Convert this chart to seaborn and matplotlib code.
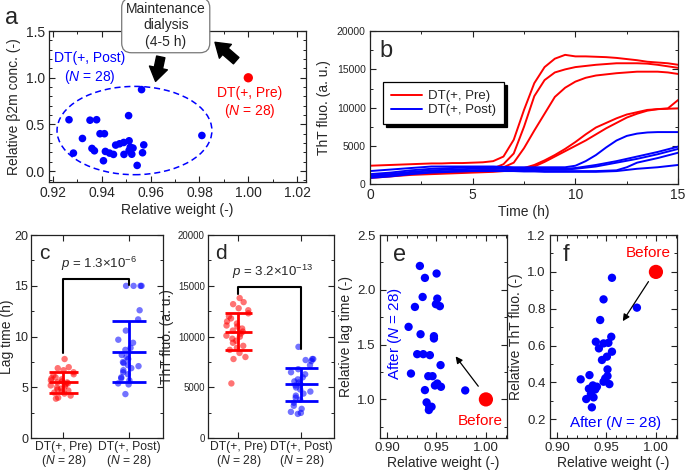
import numpy as np
import pandas as pd
import matplotlib
matplotlib.use('Agg')
import matplotlib.pyplot as plt
import seaborn as sns
from matplotlib.lines import Line2D
from matplotlib.patches import Ellipse
from matplotlib.ticker import MultipleLocator, FormatStrFormatter

sns.set_style('ticks')
plt.rcParams['font.family'] = ['Liberation Sans', 'DejaVu Sans']
plt.rcParams['mathtext.fontset'] = 'custom'
plt.rcParams['mathtext.rm'] = 'Liberation Sans'
plt.rcParams['mathtext.it'] = 'Liberation Sans:italic'
plt.rcParams['axes.linewidth'] = 0.9
plt.rcParams['axes.edgecolor'] = '#222222'

RED = '#ff0000'
BLUE = '#0000ff'
LAB = 10

# ---- a: relative weight vs relative b2m (post dialysis)
a_weight = [0.9563, 0.9266, 0.9352, 0.9379, 0.9510, 0.9393, 0.9411, 0.9321, 0.9284, 0.9360,
            0.9370, 0.9407, 0.9415, 0.9432, 0.9448, 0.9457, 0.9473, 0.9490, 0.9512, 0.9491,
            0.9517, 0.9528, 0.9512, 0.9523, 0.9545, 0.9567, 0.9572, 0.9810]
a_b2m = [0.873, 0.550, 0.545, 0.550, 0.594, 0.400, 0.400, 0.349, 0.192, 0.242,
         0.217, 0.110, 0.210, 0.192, 0.178, 0.278, 0.292, 0.306, 0.324, 0.178,
         0.256, 0.246, 0.220, 0.180, 0.060, 0.196, 0.280, 0.381]
pre_point = (1.0, 1.0)

# ---- b: ThT kinetics (time in h)
time_h = np.arange(0, 15.01, 0.5)
pre_curves = [
    [2400, 2450, 2500, 2550, 2600, 2650, 2700, 2700, 2750, 2750, 2800, 2850, 3000, 3600, 5800, 9700,
     13200, 15300, 16400, 16900, 16700, 16700, 16650, 16600, 16500, 16350, 16200, 16000, 15900, 15800, 15600],
    [1100, 1200, 1300, 1400, 1450, 1500, 1550, 1600, 1650, 1700, 1750, 1850, 2050, 2600, 4000, 7500,
     11500, 13600, 14600, 15000, 15300, 15450, 15600, 15700, 15800, 15800, 15800, 15750, 15600, 15400, 15200],
    [1000, 1100, 1200, 1300, 1350, 1400, 1450, 1500, 1550, 1600, 1650, 1750, 1900, 2200, 2800, 4700,
     7000, 9200, 11400, 12600, 13400, 13900, 14200, 14350, 14500, 14600, 14700, 14700, 14700, 14600, 14400],
    [900, 1000, 1100, 1200, 1300, 1350, 1400, 1450, 1500, 1550, 1600, 1650, 1700, 1800, 1900, 2100,
     2500, 3100, 3800, 4600, 5500, 6500, 7400, 8000, 8600, 9100, 9400, 9700, 9800, 9900, 11000],
    [800, 900, 1000, 1100, 1200, 1250, 1300, 1350, 1400, 1450, 1500, 1550, 1600, 1700, 1800, 1950,
     2300, 2900, 3600, 4300, 5000, 5700, 6500, 7300, 8000, 8700, 9200, 9600, 9800, 9850, 9900],
]
post_curves = [
    [1700, 1800, 1900, 2000, 2100, 2200, 2300, 2300, 2300, 2300, 2300, 2300, 2300, 2250, 2200, 2200,
     2200, 2200, 2200, 2200, 2400, 3000, 3800, 4800, 5700, 6300, 6600, 6750, 6800, 6800, 6800],
    [1300, 1400, 1500, 1650, 1800, 1900, 2000, 2050, 2100, 2150, 2200, 2200, 2200, 2150, 2100, 2100,
     2050, 2000, 2000, 2000, 2100, 2300, 2500, 2750, 3000, 3300, 3600, 3900, 4200, 4550, 4900],
    [1100, 1200, 1300, 1450, 1600, 1700, 1800, 1850, 1900, 1950, 2000, 2000, 2000, 2000, 2000, 1950,
     1950, 1900, 1900, 1900, 2000, 2150, 2300, 2550, 2800, 3050, 3300, 3600, 3900, 4250, 4600],
    [1000, 1100, 1200, 1300, 1400, 1500, 1600, 1650, 1700, 1750, 1800, 1800, 1800, 1800, 1800, 1750,
     1750, 1700, 1700, 1700, 1700, 1700, 1700, 1750, 1800, 2200, 2800, 3100, 3400, 3750, 4100],
    [800, 900, 1000, 1150, 1300, 1400, 1500, 1550, 1600, 1650, 1700, 1700, 1700, 1700, 1700, 1650,
     1650, 1600, 1600, 1600, 1600, 1600, 1600, 1650, 1700, 1850, 2000, 2100, 2200, 2350, 2500],
]

# ---- c: lag time (h)
lag_pre = [7.8, 7.0, 6.9, 6.7, 6.5, 6.3, 6.2, 6.0, 5.9, 5.8, 5.7, 5.6, 5.5, 5.5,
           5.4, 5.3, 5.2, 5.1, 5.0, 4.9, 4.8, 4.7, 4.6, 4.5, 4.4, 4.2, 4.0, 3.9]
lag_post = [15.0, 15.0, 15.0, 15.0, 12.6, 11.7, 10.6, 9.7, 9.4, 8.9, 8.7, 8.2, 8.0, 7.8,
            7.5, 7.4, 7.2, 7.1, 6.9, 6.7, 6.5, 6.3, 6.0, 5.9, 5.7, 5.4, 5.3, 4.35]
lag_mean = [5.5, 8.5]
lag_sd = [1.0, 3.0]

# ---- d: ThT fluorescence at end (a.u.)
tht_pre = [13800, 13400, 13200, 12800, 12600, 12300, 12000, 11800, 11500, 11300, 11100, 11000, 10800, 10600,
           10500, 10300, 10100, 10000, 9800, 9600, 9400, 9100, 8900, 8700, 8400, 8000, 7800, 5400]
tht_post = [9000, 7800, 7800, 7700, 7600, 7200, 6800, 6500, 6300, 6000, 5800, 5600, 5500, 5300,
            5200, 5000, 4800, 4600, 4400, 4200, 4000, 3800, 3500, 3200, 2900, 2600, 2500, 2400]
tht_mean = [10500, 5300]
tht_sd = [1850, 1600]

group_names = ['Pre', 'Post']
group_labels = ['DT(+, Pre)\n($N$ = 28)', 'DT(+, Post)\n($N$ = 28)']

# ---- e: relative weight vs relative lag time
e_weight = [0.9333, 0.9502, 0.9384, 0.9361, 0.9509, 0.9283, 0.9495, 0.9535, 0.9219, 0.9340,
            0.9475, 0.9475, 0.9306, 0.9367, 0.9434, 0.9542, 0.9243, 0.9418, 0.9461, 0.9485,
            0.9546, 0.9384, 0.9791, 0.9401, 0.9428, 0.9451, 0.9424, 0.9509]
e_lag = [2.218, 2.149, 2.109, 1.935, 1.920, 1.844, 1.869, 1.851, 1.662, 1.595,
         1.577, 1.556, 1.413, 1.413, 1.404, 1.313, 1.236, 1.212, 1.212, 1.127,
         1.115, 1.085, 1.082, 0.973, 0.933, 0.933, 0.903, 1.145]

# ---- f: relative weight vs relative ThT fluorescence
f_weight = [0.9556, 0.9471, 0.9808, 0.9437, 0.9549, 0.9393, 0.9471, 0.9520, 0.9424, 0.9556,
            0.9505, 0.9455, 0.9511, 0.9511, 0.9240, 0.9329, 0.9471, 0.9530, 0.9363, 0.9387,
            0.9353, 0.9343, 0.9296, 0.9370, 0.9353, 0.9404, 0.9488, 0.9323]
f_tht = [0.968, 0.851, 0.806, 0.739, 0.648, 0.621, 0.612, 0.615, 0.585, 0.567,
         0.540, 0.522, 0.471, 0.435, 0.417, 0.440, 0.404, 0.391, 0.384, 0.362,
         0.355, 0.337, 0.310, 0.319, 0.265, 0.377, 0.422, 0.366]


def style_ticks(ax, labelsize=10):
    ax.tick_params(which='both', direction='in', top=True, right=True, labelsize=labelsize,
                   color='#222222', pad=3)
    ax.tick_params(which='major', length=4, width=0.8)
    ax.tick_params(which='minor', length=2.5, width=0.7)


fig = plt.figure(figsize=(6.85, 4.72), dpi=100)

# ================= a
ax = fig.add_axes([0.0715, 0.614, 0.3755, 0.320])
sns.scatterplot(x=a_weight, y=a_b2m, color=BLUE, s=30, edgecolor='none', ax=ax, zorder=3)
sns.scatterplot(x=[pre_point[0]], y=[pre_point[1]], color=RED, s=45, edgecolor='none', ax=ax, zorder=3)
ax.add_patch(Ellipse((0.9534, 0.434), 0.0634, 0.947, fill=False, ls=(0, (4, 2.5)), ec=BLUE, lw=1.1))
ax.set_xlim(0.9184, 1.0237)
ax.set_ylim(-0.12, 1.5)
ax.xaxis.set_major_locator(MultipleLocator(0.02))
ax.xaxis.set_minor_locator(MultipleLocator(0.01))
ax.yaxis.set_major_locator(MultipleLocator(0.5))
ax.yaxis.set_minor_locator(MultipleLocator(0.1))
ax.xaxis.set_major_formatter(FormatStrFormatter('%.2f'))
ax.yaxis.set_major_formatter(FormatStrFormatter('%.1f'))
style_ticks(ax)
ax.set_xlabel('Relative weight (-)', fontsize=LAB, labelpad=2)
ax.set_ylabel('Relative β2m conc. (-)', fontsize=LAB, labelpad=3)
ax.text(0.935, 1.10, 'DT(+, Post)\n($N$ = 28)', color=BLUE, ha='center', va='center', fontsize=LAB)
ax.text(1.0007, 0.73, 'DT(+, Pre)\n($N$ = 28)', color=RED, ha='center', va='center', fontsize=LAB)
ax.text(0.9662, 1.562, 'Maintenance\ndialysis\n(4-5 h)', ha='center', va='center', fontsize=10,
        linespacing=1.2, clip_on=False, zorder=5,
        bbox=dict(boxstyle='round,pad=0.3,rounding_size=0.7', fc='white', ec='#777777', lw=0.9))
arrow_style = 'simple,head_width=1.2,head_length=0.9,tail_width=0.55'
ax.annotate('', xy=(0.9855, 1.40), xytext=(0.9959, 1.164), annotation_clip=False,
            arrowprops=dict(arrowstyle=arrow_style, fc='black', ec='black', mutation_scale=11))
ax.annotate('', xy=(0.9618, 0.932), xytext=(0.9644, 1.253), annotation_clip=False,
            arrowprops=dict(arrowstyle=arrow_style, fc='black', ec='black', mutation_scale=11))
fig.text(0.008, 0.985, 'a', fontsize=17, va='top', ha='left')

# ================= b
ax = fig.add_axes([0.540, 0.610, 0.450, 0.324])
for curve in pre_curves:
    sns.lineplot(x=time_h, y=curve, color=RED, lw=1.4, ax=ax)
for curve in post_curves:
    sns.lineplot(x=time_h, y=curve, color=BLUE, lw=1.4, ax=ax)
ax.set_xlim(0, 15)
ax.set_ylim(0, 20000)
ax.xaxis.set_major_locator(MultipleLocator(5))
ax.xaxis.set_minor_locator(MultipleLocator(2.5))
ax.yaxis.set_major_locator(MultipleLocator(5000))
ax.yaxis.set_minor_locator(MultipleLocator(2500))
style_ticks(ax)
ax.tick_params(axis='y', labelsize=7.5)
ax.set_xlabel('Time (h)', fontsize=LAB, labelpad=2)
ax.set_ylabel('ThT fluo. (a. u.)', fontsize=LAB, labelpad=4)
handles = [Line2D([], [], color=RED, lw=1.4, label='DT(+, Pre)'),
           Line2D([], [], color=BLUE, lw=1.4, label='DT(+, Post)')]
leg = ax.legend(handles=handles, loc='upper left', bbox_to_anchor=(0.022, 0.71), fontsize=9.5,
                frameon=True, fancybox=False, shadow={'color': 'black', 'alpha': 1},
                edgecolor='black', framealpha=1, handlelength=2.3, borderpad=0.6,
                labelspacing=0.15, handletextpad=0.5)
leg.get_frame().set_linewidth(0.9)
ax.text(0.03, 0.94, 'b', transform=ax.transAxes, fontsize=17, va='top', ha='left')


def strip_panel(rect, pre_vals, post_vals, means, sds, ylim, major, minor, ylabel, letter,
                bracket, ptext, ytick_size, ylabel_pad):
    ax = fig.add_axes(rect)
    df = pd.DataFrame({'group': [group_names[0]] * len(pre_vals) + [group_names[1]] * len(post_vals),
                       'value': list(pre_vals) + list(post_vals)})
    np.random.seed(3)
    sns.stripplot(data=df, x='group', y='value', hue='group', order=group_names,
                  palette={'Pre': RED, 'Post': BLUE}, alpha=0.55, size=4.6, jitter=0.2,
                  linewidth=0, legend=False, ax=ax, zorder=2)
    widths = [0.22, 0.26]
    colors = [RED, BLUE]
    for i in range(2):
        m, s = means[i], sds[i]
        ax.hlines([m - s, m, m + s], i - widths[i], i + widths[i], color=colors[i], lw=2, zorder=4)
        ax.vlines(i, m - s, m + s, color=colors[i], lw=2, zorder=4)
    y_left, y_top, y_right = bracket
    ax.plot([0, 0, 1, 1], [y_left, y_top, y_top, y_right], color='black', lw=1.5, zorder=5)
    ax.text(0.55, ptext[0], ptext[1], ha='center', va='bottom', fontsize=9.5)
    ax.set_xlim(-0.49, 1.52)
    ax.set_ylim(*ylim)
    ax.set_xticks([0, 1])
    ax.set_xticklabels(group_labels, linespacing=1.0)
    ax.yaxis.set_major_locator(MultipleLocator(major))
    ax.yaxis.set_minor_locator(MultipleLocator(minor))
    style_ticks(ax)
    ax.tick_params(axis='y', labelsize=ytick_size, pad=2)
    ax.tick_params(axis='x', labelsize=8.7, pad=2)
    ax.set_xlabel('')
    ax.set_ylabel(ylabel, fontsize=LAB, labelpad=ylabel_pad)
    ax.text(0.06, 0.955, letter, transform=ax.transAxes, fontsize=15, va='top', ha='left')
    return ax


# ================= c
strip_panel([0.0453, 0.0714, 0.193, 0.4306], lag_pre, lag_post, lag_mean, lag_sd,
            (0, 20), 5, 2.5, 'Lag time (h)', 'c', (8.4, 15.7, 15.1),
            (16.3, r'$p$ = 1.3$\times$10$^{-6}$'), 9, 0.5)

# ================= d
strip_panel([0.303, 0.0714, 0.1846, 0.4306], tht_pre, tht_post, tht_mean, tht_sd,
            (0, 20000), 5000, 2500, 'ThT fluo. (a. u.)', 'd', (14200, 14900, 8750),
            (15500, r'$p$ = 3.2$\times$10$^{-13}$'), 7, 3)

# ================= e
ax = fig.add_axes([0.5547, 0.0714, 0.185, 0.4306])
sns.scatterplot(x=e_weight, y=e_lag, color=BLUE, s=36, edgecolor='none', ax=ax, zorder=3)
sns.scatterplot(x=[pre_point[0]], y=[pre_point[1]], color=RED, s=105, edgecolor='none', ax=ax, zorder=3)
ax.annotate('', xy=(0.9677, 1.413), xytext=(0.994, 1.10),
            arrowprops=dict(arrowstyle='-|>', color='black', lw=0.9, mutation_scale=10))
ax.text(0.994, 0.805, 'Before', color=RED, ha='center', va='center', fontsize=11)
ax.text(0.908, 1.60, 'After ($N$ = 28)', color=BLUE, ha='center', va='center', fontsize=11,
        rotation=90)
ax.set_xlim(0.893, 1.021)
ax.set_ylim(0.645, 2.5)
ax.xaxis.set_major_locator(MultipleLocator(0.05))
ax.xaxis.set_minor_locator(MultipleLocator(0.01))
ax.yaxis.set_major_locator(MultipleLocator(0.5))
ax.yaxis.set_minor_locator(MultipleLocator(0.25))
ax.xaxis.set_major_formatter(FormatStrFormatter('%.2f'))
ax.yaxis.set_major_formatter(FormatStrFormatter('%.1f'))
style_ticks(ax, 9.5)
ax.set_xlabel('Relative weight (-)', fontsize=LAB, labelpad=1)
ax.set_ylabel('Relative lag time (-)', fontsize=LAB, labelpad=3)
ax.text(0.1, 0.955, 'e', transform=ax.transAxes, fontsize=17, va='top', ha='left')

# ================= f
ax = fig.add_axes([0.8029, 0.0714, 0.185, 0.4306])
sns.scatterplot(x=f_weight, y=f_tht, color=BLUE, s=36, edgecolor='none', ax=ax, zorder=3)
sns.scatterplot(x=[pre_point[0]], y=[pre_point[1]], color=RED, s=105, edgecolor='none', ax=ax, zorder=3)
ax.annotate('', xy=(0.965, 0.72), xytext=(0.994, 0.96),
            arrowprops=dict(arrowstyle='-|>', color='black', lw=0.9, mutation_scale=10))
ax.text(0.9925, 1.104, 'Before', color=RED, ha='center', va='center', fontsize=11)
ax.text(0.959, 0.18, 'After ($N$ = 28)', color=BLUE, ha='center', va='center', fontsize=11)
ax.set_xlim(0.893, 1.021)
ax.set_ylim(0.097, 1.2)
ax.xaxis.set_major_locator(MultipleLocator(0.05))
ax.xaxis.set_minor_locator(MultipleLocator(0.01))
ax.yaxis.set_major_locator(MultipleLocator(0.2))
ax.yaxis.set_minor_locator(MultipleLocator(0.1))
ax.xaxis.set_major_formatter(FormatStrFormatter('%.2f'))
ax.yaxis.set_major_formatter(FormatStrFormatter('%.1f'))
style_ticks(ax, 9.5)
ax.set_xlabel('Relative weight (-)', fontsize=LAB, labelpad=1)
ax.set_ylabel('Relative ThT fluo. (-)', fontsize=LAB, labelpad=3)
ax.text(0.1, 0.955, 'f', transform=ax.transAxes, fontsize=17, va='top', ha='left')

fig.savefig('out.png', dpi=100)
plt.close(fig)
